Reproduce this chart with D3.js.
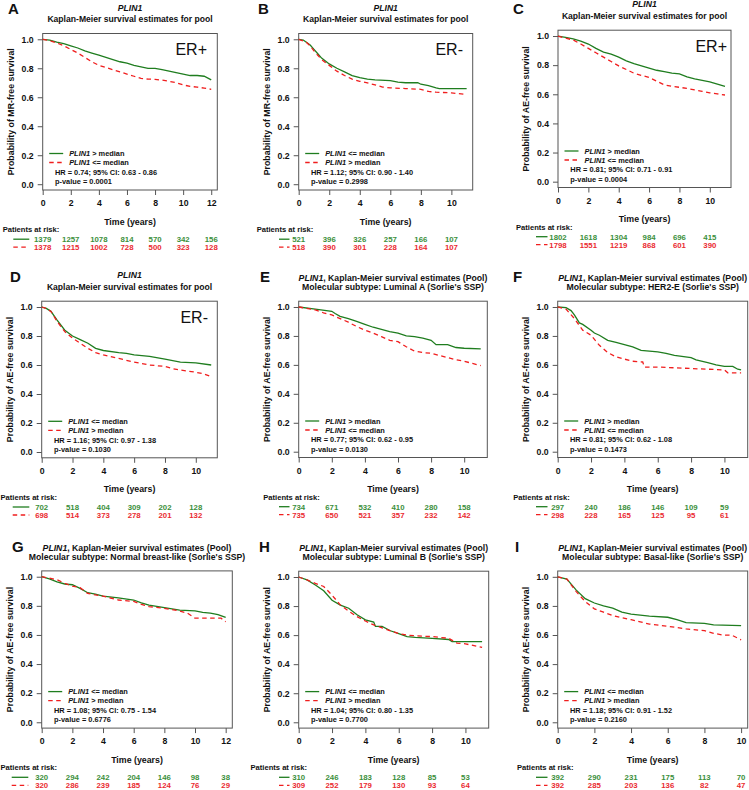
<!DOCTYPE html>
<html>
<head>
<meta charset="utf-8">
<script src="https://cdn.jsdelivr.net/npm/d3@7"></script>
<style>
  body { margin: 0; background: #fff; }
  svg text { font-family: "Liberation Sans", Arial, sans-serif; font-weight: bold; fill: #111; }
</style>
</head>
<body>
<div id="fig"></div>
<script>
// ---- data: [time (years), survival probability] ----
const curveA_hi = [[0,1],[0.5,0.995],[1,0.98],[1.5,0.97],[2,0.955],[2.5,0.94],[3,0.92],[3.5,0.905],[4,0.89],[4.5,0.875],[5,0.86],[5.5,0.845],[6,0.835],[6.5,0.82],[7,0.81],[7.5,0.80],[8,0.80],[8.5,0.79],[9,0.78],[9.5,0.77],[10,0.76],[10.5,0.75],[11,0.75],[11.5,0.745],[12,0.72]];
const curveA_lo = [[0,1],[0.5,0.99],[1,0.975],[1.5,0.955],[2,0.93],[2.5,0.905],[3,0.875],[3.5,0.845],[4,0.82],[4.5,0.805],[5,0.79],[5.5,0.775],[6,0.76],[6.5,0.745],[7,0.73],[7.5,0.725],[8,0.724],[8.5,0.718],[9,0.71],[9.5,0.70],[10,0.685],[10.5,0.675],[11,0.67],[11.5,0.663],[12,0.655]];
const curveB_lo = [[0,1],[0.3,0.995],[0.5,0.98],[0.75,0.96],[1,0.93],[1.25,0.9],[1.5,0.87],[1.75,0.85],[2,0.83],[2.5,0.80],[3,0.775],[3.5,0.75],[4,0.735],[4.5,0.725],[5,0.72],[6,0.715],[6.5,0.705],[7,0.70],[7.8,0.70],[8,0.69],[8.5,0.68],[9,0.665],[9.2,0.66],[11,0.66]];
const curveB_hi = [[0,1],[0.5,0.98],[0.75,0.955],[1,0.92],[1.25,0.89],[1.5,0.86],[2,0.82],[2.5,0.78],[3,0.75],[3.5,0.725],[4,0.71],[4.5,0.70],[5,0.685],[5.5,0.67],[6,0.665],[7,0.66],[8,0.655],[8.5,0.64],[9,0.635],[10,0.63],[11,0.62]];
const curveC_hi = [[0,1],[0.5,0.99],[1,0.98],[1.5,0.965],[2,0.945],[2.5,0.915],[3,0.89],[3.5,0.875],[4,0.855],[4.5,0.83],[5,0.81],[5.5,0.795],[6,0.78],[6.5,0.765],[7,0.755],[7.5,0.745],[8,0.74],[8.5,0.72],[9,0.705],[9.5,0.695],[10,0.685],[10.5,0.67],[11,0.655]];
const curveC_lo = [[0,1],[0.5,0.985],[1,0.973],[1.5,0.945],[2,0.915],[2.5,0.885],[3,0.855],[3.5,0.825],[4,0.795],[4.5,0.77],[5,0.745],[5.5,0.73],[6,0.715],[6.5,0.69],[7,0.665],[7.5,0.655],[8,0.648],[8.5,0.64],[9,0.63],[9.5,0.62],[10,0.61],[10.5,0.603],[11,0.595]];
const curveD_lo = [[0,1],[0.3,0.99],[0.6,0.97],[1,0.91],[1.5,0.84],[2,0.80],[2.5,0.775],[3,0.75],[3.5,0.715],[4,0.70],[5,0.685],[5.5,0.68],[6,0.67],[7,0.66],[8,0.64],[9,0.62],[10,0.615],[11,0.60]];
const curveD_hi = [[0,1],[0.3,0.99],[0.6,0.97],[1,0.90],[1.5,0.83],[2,0.785],[2.5,0.75],[3,0.715],[3.5,0.685],[4,0.67],[5,0.645],[6,0.62],[7,0.60],[8,0.59],[8.5,0.575],[9,0.565],[10,0.55],[10.5,0.54],[11,0.52]];
const curveE_hi = [[0,1],[1,0.985],[2,0.97],[2.2,0.955],[2.5,0.935],[3,0.92],[3.5,0.90],[4,0.88],[4.5,0.86],[5,0.845],[5.5,0.83],[6,0.82],[6.5,0.80],[7,0.795],[7.5,0.785],[8,0.77],[8.3,0.74],[9,0.74],[9.5,0.72],[10,0.715],[11,0.71]];
const curveE_lo = [[0,1],[1,0.98],[1.5,0.96],[2,0.945],[2.5,0.92],[3,0.895],[3.5,0.865],[4,0.84],[4.5,0.82],[5,0.795],[5.5,0.77],[6,0.76],[6.5,0.725],[7,0.695],[7.5,0.685],[8,0.68],[8.5,0.665],[9,0.65],[9.5,0.635],[10,0.625],[10.5,0.61],[11,0.595]];
const curveF_hi = [[0,1],[0.5,0.995],[0.8,0.975],[1,0.945],[1.3,0.89],[1.5,0.88],[2,0.84],[2.2,0.82],[2.5,0.805],[3,0.77],[3.5,0.755],[4,0.74],[4.5,0.725],[5,0.70],[6,0.69],[6.5,0.68],[7,0.665],[8,0.65],[8.3,0.635],[9,0.615],[9.5,0.60],[10,0.59],[10.5,0.59],[10.8,0.57],[11,0.565]];
const curveF_lo = [[0,1],[0.5,0.985],[1,0.92],[1.5,0.84],[2,0.805],[2.5,0.735],[3,0.685],[3.5,0.655],[4,0.64],[4.5,0.625],[5.1,0.62],[5.2,0.585],[6,0.585],[7,0.58],[8,0.575],[9,0.57],[10,0.565],[10.2,0.545],[11,0.545]];
const curveG_lo = [[0,1],[0.5,0.985],[1,0.965],[1.5,0.95],[2,0.945],[2.5,0.92],[3,0.89],[3.5,0.88],[4,0.867],[5,0.855],[6,0.84],[6.5,0.82],[7,0.805],[8,0.787],[9,0.77],[10,0.765],[10.5,0.755],[11,0.75],[11.5,0.74],[12,0.72]];
const curveG_hi = [[0,1],[0.5,0.99],[1,0.98],[1.5,0.955],[2,0.935],[2.5,0.925],[3,0.885],[3.5,0.875],[4,0.867],[5,0.84],[6,0.83],[6.5,0.81],[7,0.795],[8,0.783],[9,0.765],[9.5,0.75],[10,0.715],[11,0.715],[11.7,0.715],[12,0.69]];
const curveH_lo = [[0,1],[0.5,0.98],[1,0.945],[1.5,0.905],[2,0.84],[2.5,0.807],[3,0.785],[3.5,0.74],[4,0.705],[4.5,0.69],[4.6,0.66],[5,0.66],[5.5,0.63],[6,0.61],[6.5,0.59],[7,0.585],[8,0.578],[9,0.57],[9.2,0.555],[11,0.555]];
const curveH_hi = [[0,1],[0.5,0.98],[1,0.956],[1.5,0.935],[2,0.875],[2.5,0.807],[3,0.765],[3.5,0.727],[4,0.697],[4.5,0.67],[5,0.65],[5.5,0.63],[6,0.61],[6.5,0.60],[7,0.595],[8,0.59],[9,0.578],[9.5,0.545],[10,0.54],[11,0.515]];
const curveI_lo = [[0,1],[0.5,0.985],[1,0.91],[1.5,0.85],[2,0.82],[2.5,0.80],[3,0.785],[3.5,0.757],[4,0.743],[5,0.73],[6,0.722],[6.5,0.705],[7,0.685],[8,0.68],[8.5,0.67],[9,0.668],[10,0.665]];
const curveI_hi = [[0,1],[0.5,0.985],[1,0.90],[1.5,0.83],[2,0.78],[2.5,0.757],[3,0.734],[4,0.705],[4.5,0.69],[5,0.675],[6,0.66],[7,0.642],[8,0.63],[8.5,0.612],[9,0.60],[9.5,0.598],[10,0.567]];

// patients at risk (green row, red row)
const riskA = [[1379,1257,1078,814,570,342,156],[1378,1215,1002,728,500,323,128]];
const riskB = [[521,396,326,257,166,107],[518,390,301,228,164,107]];
const riskC = [[1802,1618,1304,984,696,415],[1798,1551,1219,868,601,390]];
const riskD = [[702,518,404,309,202,128],[698,514,373,278,201,132]];
const riskE = [[734,671,532,410,280,158],[735,650,521,357,232,142]];
const riskF = [[297,240,186,146,109,59],[298,228,165,125,95,61]];
const riskG = [[320,294,242,204,146,98,38],[320,286,239,185,124,76,29]];
const riskH = [[310,246,183,128,85,53],[309,252,179,130,93,64]];
const riskI = [[392,290,231,175,113,70],[392,285,203,136,82,47]];

const ticks12 = [0,2,4,6,8,10,12];
const ticks10 = [0,2,4,6,8,10];
const yTicks = [0,0.2,0.4,0.6,0.8,1.0];

const letters = ["A","B","C","D","E","F","G","H","I"];
const subtypes = [null,null,null,null,"Luminal A","HER2-E","Normal breast-like","Luminal B","Basal-like"];
const erLabels = ["ER+","ER-","ER+","ER-",null,null,null,null,null];
const yLabels = ["Probability of MR-free survival","Probability of MR-free survival",
  "Probability of AE-free survival","Probability of AE-free survival","Probability of AE-free survival",
  "Probability of AE-free survival","Probability of AE-free survival","Probability of AE-free survival",
  "Probability of AE-free survival"];
const hrTexts = ["HR = 0.74; 95% CI: 0.63 - 0.86","HR = 1.12; 95% CI: 0.90 - 1.40","HR = 0.81; 95% CI: 0.71 - 0.91",
  "HR = 1.16; 95% CI: 0.97 - 1.38","HR = 0.77; 95% CI: 0.62 - 0.95","HR = 0.81; 95% CI: 0.62 - 1.08",
  "HR = 1.08; 95% CI: 0.75 - 1.54","HR = 1.04; 95% CI: 0.80 - 1.35","HR = 1.18; 95% CI: 0.91 - 1.52"];
const pTexts = ["p-value = 0.0001","p-value = 0.2998","p-value = 0.0004","p-value = 0.1030","p-value = 0.0130",
  "p-value = 0.1473","p-value = 0.6776","p-value = 0.7700","p-value = 0.2160"];
// legend label for the green curve; red gets the other one
const greenIsHigh = [true,false,true,false,true,true,false,false,false];
const xMaxes = [12,11,11,11,11,11,12,11,10];
const xTicks = [ticks12,ticks10,ticks10,ticks10,ticks10,ticks10,ticks12,ticks10,ticks10];
const greenCurves = [curveA_hi,curveB_lo,curveC_hi,curveD_lo,curveE_hi,curveF_hi,curveG_lo,curveH_lo,curveI_lo];
const redCurves = [curveA_lo,curveB_hi,curveC_lo,curveD_hi,curveE_lo,curveF_lo,curveG_hi,curveH_hi,curveI_hi];
const risks = [riskA,riskB,riskC,riskD,riskE,riskF,riskG,riskH,riskI];

// ---- layout (pixel boxes of each panel) ----
const layout = [
  {l:42.7, r:217.3, t:33.5, b:190, lx:8, ly:14, riskX:2.7, erDx:10.3, lineX:[13.3,29.3]},
  {l:298.7, r:472.7, t:33.5, b:190, lx:258, ly:14, riskX:256.7, erDx:9.7, lineX:[279,289.5]},
  {l:558, r:731, t:30.2, b:187.5, lx:513, ly:13.5, riskX:516, erDx:4, lineX:[536,547.5]},
  {l:41.7, r:217.3, t:301.2, b:457.8, lx:10, ly:281.5, riskX:0.5, erDx:9.3, lineX:[12.7,29.3]},
  {l:298.7, r:487.3, t:301.2, b:457.5, lx:260, ly:281.5, riskX:263.3, erDx:0, lineX:[279,289.5]},
  {l:557.7, r:747.7, t:301.2, b:457.5, lx:513, ly:281.5, riskX:513.3, erDx:0, lineX:[536,547.5]},
  {l:41.7, r:232.3, t:570.9, b:728.1, lx:12, ly:552, riskX:0.5, erDx:0, lineX:[11.7,28.3]},
  {l:298.7, r:488.7, t:571.2, b:728.1, lx:259, ly:552, riskX:250.5, erDx:0, lineX:[279,289.5]},
  {l:557.7, r:747.7, t:571, b:728.1, lx:515, ly:552, riskX:517, erDx:0, lineX:[536,547.5]}
];

const GREEN = "#1f7d1f", RED = "#f01e1e";
const GREEN_TXT = "#3b8f3b", RED_TXT = "#ea2a30";
const DASH = "4.5,3.5";

const svg = d3.select("#fig").append("svg")
  .attr("width", 749).attr("height", 790);

function addLabel(sel, greenHigh, isGreen) {
  const high = isGreen ? greenHigh : !greenHigh;
  sel.append("tspan").style("font-style", "italic").text("PLIN1");
  sel.append("tspan").text(high ? " > median" : " <= median");
}

function drawPanel(i) {
  const L = layout[i];
  const g = svg.append("g");
  const x = d3.scaleLinear().domain([0, xMaxes[i] * 1.036]).range([L.l, L.r]);
  const y = d3.scaleLinear().domain([-0.04, 1.04]).range([L.b, L.t]);

  // panel letter
  g.append("text").attr("x", L.lx).attr("y", L.ly)
    .style("font-size", "15px").text(letters[i]);

  // title
  const cx = (L.l + L.r) / 2;
  if (subtypes[i] === null) {
    g.append("text").attr("x", cx).attr("y", L.t - 23).attr("text-anchor", "middle")
      .style("font-size", "8.6px").style("font-style", "italic").text("PLIN1");
    g.append("text").attr("x", cx).attr("y", L.t - 11.3).attr("text-anchor", "middle")
      .style("font-size", "8.6px").text("Kaplan-Meier survival estimates for pool");
  } else {
    const t1 = g.append("text").attr("x", cx).attr("y", L.t - 20).attr("text-anchor", "middle")
      .style("font-size", "8.7px");
    t1.append("tspan").style("font-style", "italic").text("PLIN1");
    t1.append("tspan").text(", Kaplan-Meier survival estimates (Pool)");
    g.append("text").attr("x", cx).attr("y", L.t - 11).attr("text-anchor", "middle")
      .style("font-size", "8.7px").text(`Molecular subtype: ${subtypes[i]} (Sorlie's SSP)`);
  }

  // axes
  const xa = g.append("g").attr("transform", `translate(0,${L.b})`)
    .call(d3.axisBottom(x).tickValues(xTicks[i]).tickFormat(d3.format("d"))
      .tickSize(5).tickPadding(5));
  const ya = g.append("g").attr("transform", `translate(${L.l},0)`)
    .call(d3.axisLeft(y).tickValues(yTicks).tickFormat(d3.format(".1f"))
      .tickSize(5).tickPadding(4));
  [xa, ya].forEach(a => {
    a.select(".domain").remove();
    a.selectAll("line").attr("stroke", "#555");
    a.selectAll("text").style("font-size", "8.7px").attr("fill", "#111")
      .style("font-family", "'Liberation Sans', Arial, sans-serif");
  });

  // box
  g.append("rect").attr("x", L.l).attr("y", L.t)
    .attr("width", L.r - L.l).attr("height", L.b - L.t)
    .attr("fill", "none").attr("stroke", "#555").attr("stroke-width", 1);

  // axis titles
  g.append("text").attr("x", cx).attr("y", L.b + 34.5).attr("text-anchor", "middle")
    .style("font-size", "8.8px").text("Time (years)");
  g.append("text")
    .attr("transform", `translate(${L.l - 29},${(L.t + L.b) / 2}) rotate(-90)`)
    .attr("text-anchor", "middle").style("font-size", "8.8px").text(yLabels[i]);

  // survival curves
  const line = d3.line().x(d => x(d[0])).y(d => y(d[1]));
  g.append("path").datum(greenCurves[i]).attr("d", line)
    .attr("fill", "none").attr("stroke", GREEN).attr("stroke-width", 1.3);
  g.append("path").datum(redCurves[i]).attr("d", line)
    .attr("fill", "none").attr("stroke", RED).attr("stroke-width", 1.3)
    .attr("stroke-dasharray", DASH);

  // ER label
  if (erLabels[i]) {
    g.append("text").attr("x", L.r - L.erDx).attr("y", L.t + 21.5).attr("text-anchor", "end")
      .style("font-size", "16px").style("font-weight", "normal").text(erLabels[i]);
  }

  // legend
  const lg = [L.b - 36.5, L.b - 27.5];
  g.append("line").attr("x1", L.l + 6.5).attr("x2", L.l + 20.5).attr("y1", lg[0]).attr("y2", lg[0])
    .attr("stroke", GREEN).attr("stroke-width", 1.3);
  g.append("line").attr("x1", L.l + 6.5).attr("x2", L.l + 20.5).attr("y1", lg[1]).attr("y2", lg[1])
    .attr("stroke", RED).attr("stroke-width", 1.3).attr("stroke-dasharray", DASH);
  addLabel(g.append("text").attr("x", L.l + 26.5).attr("y", lg[0] + 2.7).style("font-size", "7.4px"), greenIsHigh[i], true);
  addLabel(g.append("text").attr("x", L.l + 26.5).attr("y", lg[1] + 2.7).style("font-size", "7.4px"), greenIsHigh[i], false);
  g.append("text").attr("x", L.l + 12.3).attr("y", L.b - 15.3).style("font-size", "7.4px").text(hrTexts[i]);
  g.append("text").attr("x", L.l + 12.3).attr("y", L.b - 5.8).style("font-size", "7.4px").text(pTexts[i]);

  // patients at risk
  g.append("text").attr("x", L.riskX).attr("y", L.b + 42.3).style("font-size", "7.6px").text("Patients at risk:");
  const rows = [L.b + 52, L.b + 60];
  [GREEN, RED].forEach((c, k) => {
    g.append("line").attr("x1", L.lineX[0]).attr("x2", L.lineX[1])
      .attr("y1", rows[k] - 2.8).attr("y2", rows[k] - 2.8)
      .attr("stroke", c).attr("stroke-width", 1.3)
      .attr("stroke-dasharray", k === 1 ? DASH : null);
    g.selectAll(null).data(risks[i][k]).enter().append("text")
      .attr("x", (d, j) => x(xTicks[i][j])).attr("y", rows[k])
      .attr("text-anchor", "middle").style("font-size", "7.8px")
      .style("fill", k === 0 ? GREEN_TXT : RED_TXT)
      .text(d => d);
  });
}

d3.range(9).forEach(drawPanel);
</script>
</body>
</html>
